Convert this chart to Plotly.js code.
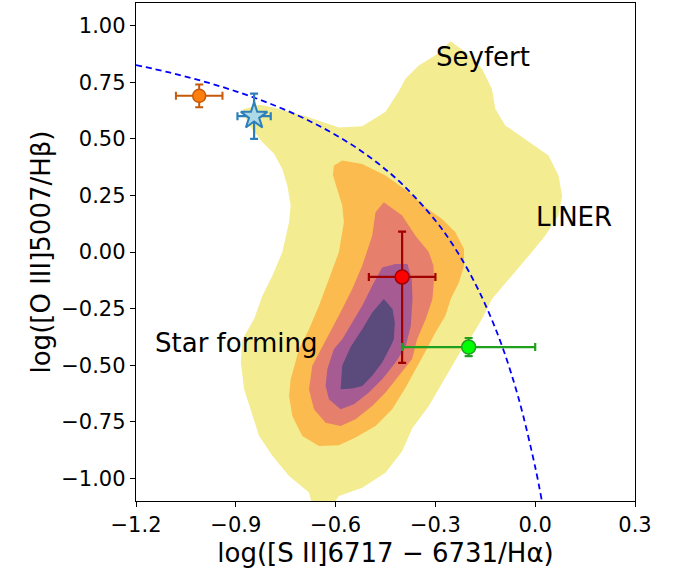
<!DOCTYPE html>
<html>
<head>
<meta charset="utf-8">
<script src="https://cdn.plot.ly/plotly-3.0.1.min.js"></script>
<style>html,body{margin:0;padding:0;background:#fff;}#chart{width:681px;height:581px;}</style>
</head>
<body>
<div id="chart"></div>
<script>
// ---- density contour outlines, outer to inner ----
const yellowX = [-0.88,-0.83,-0.79,-0.69,-0.59,-0.52,-0.45,-0.41,-0.39,-0.35,-0.30,-0.254,-0.21,-0.16,-0.13,-0.12,-0.09,-0.01,0.04,0.07,0.081,0.07,0.03,-0.01,-0.08,-0.13,-0.16,-0.19,-0.22,-0.26,-0.32,-0.37,-0.40,-0.45,-0.52,-0.59,-0.61,-0.67,-0.68,-0.74,-0.79,-0.83,-0.85,-0.875,-0.885,-0.88,-0.845,-0.82,-0.79,-0.76,-0.74,-0.735,-0.745,-0.76,-0.785,-0.82,-0.86];
const yellowY = [0.63,0.65,0.64,0.60,0.55,0.556,0.62,0.71,0.765,0.824,0.869,0.931,0.884,0.81,0.72,0.633,0.559,0.478,0.426,0.338,0.249,0.161,0.072,0.0,-0.119,-0.208,-0.296,-0.37,-0.429,-0.532,-0.68,-0.78,-0.88,-0.975,-1.041,-1.078,-1.12,-1.12,-1.063,-0.99,-0.90,-0.813,-0.724,-0.606,-0.488,-0.385,-0.296,-0.193,-0.105,0.0,0.131,0.205,0.293,0.367,0.434,0.485,0.559];

const orangeX = [-0.605,-0.58,-0.52,-0.45,-0.38,-0.33,-0.28,-0.24,-0.214,-0.214,-0.229,-0.254,-0.27,-0.30,-0.33,-0.36,-0.39,-0.43,-0.48,-0.54,-0.59,-0.65,-0.70,-0.73,-0.74,-0.735,-0.71,-0.68,-0.65,-0.62,-0.59,-0.575,-0.58,-0.60,-0.608];
const orangeY = [0.382,0.404,0.389,0.338,0.264,0.198,0.146,0.087,0.013,-0.061,-0.134,-0.208,-0.282,-0.356,-0.44,-0.52,-0.60,-0.695,-0.769,-0.82,-0.854,-0.857,-0.813,-0.724,-0.636,-0.562,-0.43,-0.341,-0.238,-0.119,0.0,0.131,0.205,0.30,0.34];

const salmonX = [-0.455,-0.40,-0.36,-0.32,-0.306,-0.304,-0.309,-0.329,-0.355,-0.37,-0.41,-0.45,-0.49,-0.54,-0.585,-0.63,-0.665,-0.68,-0.67,-0.64,-0.61,-0.58,-0.55,-0.52,-0.49,-0.48];
const salmonY = [0.22,0.161,0.072,0.0,-0.06,-0.119,-0.208,-0.296,-0.385,-0.473,-0.547,-0.621,-0.68,-0.739,-0.769,-0.754,-0.695,-0.606,-0.503,-0.42,-0.341,-0.252,-0.164,-0.061,0.072,0.176];

const purpleX = [-0.46,-0.42,-0.384,-0.371,-0.369,-0.374,-0.389,-0.42,-0.46,-0.50,-0.545,-0.585,-0.62,-0.63,-0.625,-0.605,-0.58,-0.55,-0.52,-0.49];
const purpleY = [-0.068,-0.053,-0.053,-0.119,-0.208,-0.326,-0.415,-0.488,-0.562,-0.621,-0.673,-0.695,-0.65,-0.592,-0.518,-0.429,-0.385,-0.311,-0.238,-0.149];

const darkX = [-0.455,-0.429,-0.422,-0.425,-0.434,-0.46,-0.49,-0.52,-0.55,-0.585,-0.58,-0.555,-0.52,-0.49];
const darkY = [-0.208,-0.252,-0.311,-0.385,-0.415,-0.488,-0.547,-0.592,-0.603,-0.606,-0.503,-0.42,-0.341,-0.267];

// ---- demarcation curve (Seyfert/LINER vs star forming) ----
const curveX = [-1.2,-1.1,-1.0,-0.9,-0.8,-0.7,-0.6,-0.5,-0.4,-0.3,-0.25,-0.2,-0.15,-0.1,-0.05,0.0,0.02];
const curveY = [0.826,0.793,0.755,0.710,0.657,0.594,0.517,0.422,0.300,0.139,0.037,-0.085,-0.232,-0.414,-0.646,-0.95,-1.10];

// ---- measured points ----
const orangePt = {x:[-1.01], y:[0.69], ex:[0.07], ey:[0.05]};
const starPt   = {x:[-0.845], y:[0.60], ex:[0.05], ey:[0.10]};
const redPt    = {x:[-0.40], y:[-0.11], ex:[0.10], eyUp:[0.20], eyDown:[0.38]};
const greenPt  = {x:[-0.20], y:[-0.42], ex:[0.20], ey:[0.04]};

// ---- tick labels ----
const xTicks = [-1.2,-0.9,-0.6,-0.3,0.0,0.3];
const xTickText = ['\u22121.2','\u22120.9','\u22120.6','\u22120.3','0.0','0.3'];
const yTicks = [-1.0,-0.75,-0.5,-0.25,0.0,0.25,0.5,0.75,1.0];
const yTickText = ['\u22121.00','\u22120.75','\u22120.50','\u22120.25','0.00','0.25','0.50','0.75','1.00'];

function poly(x, y, color){
  return {type:'scatter', mode:'lines', x:x, y:y, fill:'toself', fillcolor:color,
          line:{width:0, color:color}, hoverinfo:'skip', showlegend:false};
}

const traces = [
  poly(yellowX, yellowY, '#f3ec91'),
  poly(orangeX, orangeY, '#fbbb4e'),
  poly(salmonX, salmonY, '#e67f6c'),
  poly(purpleX, purpleY, '#a65c93'),
  poly(darkX, darkY, '#5b4a7c'),
  {type:'scatter', mode:'lines', x:curveX, y:curveY, line:{color:'#0000ff', width:1.8, dash:'6px,4px', shape:'spline'}, showlegend:false, hoverinfo:'skip'},
  {type:'scatter', mode:'markers', x:orangePt.x, y:orangePt.y,
   marker:{symbol:'circle', size:13, color:'#ff7f0e', line:{color:'#c45a0a', width:1.5}},
   error_x:{type:'data', array:orangePt.ex, color:'#c45a0a', thickness:2, width:4},
   error_y:{type:'data', array:orangePt.ey, color:'#c45a0a', thickness:2, width:4}, showlegend:false},
  {type:'scatter', mode:'markers', x:starPt.x, y:starPt.y,
   marker:{symbol:'star', size:20, color:'#add8e6', line:{color:'#2c7fb8', width:2}},
   error_x:{type:'data', array:starPt.ex, color:'#2c7fb8', thickness:2.2, width:4},
   error_y:{type:'data', array:starPt.ey, color:'#2c7fb8', thickness:2.2, width:4}, showlegend:false},
  {type:'scatter', mode:'markers', x:redPt.x, y:redPt.y,
   marker:{symbol:'circle', size:14, color:'#ff0000', line:{color:'#a00000', width:1.5}},
   error_x:{type:'data', array:redPt.ex, color:'#a00000', thickness:2.2, width:4},
   error_y:{type:'data', symmetric:false, array:redPt.eyUp, arrayminus:redPt.eyDown, color:'#a00000', thickness:2.2, width:4}, showlegend:false},
  {type:'scatter', mode:'markers', x:greenPt.x, y:greenPt.y,
   marker:{symbol:'circle', size:14, color:'#00ff00', line:{color:'#1fa01f', width:1.5}},
   error_x:{type:'data', array:greenPt.ex, color:'#1fa01f', thickness:2.2, width:4},
   error_y:{type:'data', array:greenPt.ey, color:'#1fa01f', thickness:2.2, width:4}, showlegend:false}
];

const font = 'DejaVu Sans, sans-serif';
const layout = {
  width:681, height:581,
  margin:{l:136, r:46, t:3, b:80, pad:0},
  paper_bgcolor:'#ffffff', plot_bgcolor:'#ffffff',
  showlegend:false,
  font:{family:font, color:'#000000'},
  xaxis:{range:[-1.2,0.3], tickvals:xTicks, ticktext:xTickText, ticks:'outside', ticklen:5, tickwidth:1, tickcolor:'#000',
         showline:true, linecolor:'#000', linewidth:1.2, mirror:true, showgrid:false, zeroline:false,
         tickfont:{family:font, size:21, color:'#000'},
         title:{text:'log([S II]6717 \u2212 6731/H\u03b1)', font:{family:font, size:26, color:'#000'}, standoff:7}},
  yaxis:{range:[-1.1,1.1], tickvals:yTicks, ticktext:yTickText, ticks:'outside', ticklen:5, tickwidth:1, tickcolor:'#000',
         showline:true, linecolor:'#000', linewidth:1.2, mirror:true, showgrid:false, zeroline:false,
         tickfont:{family:font, size:21, color:'#000'},
         title:{text:'log([O III]5007/H\u03b2)', font:{family:font, size:26, color:'#000'}, standoff:3}},
  annotations:[
    {x:-0.157, y:0.86, xref:'x', yref:'y', text:'Seyfert', showarrow:false, font:{family:font, size:26, color:'#000'}},
    {x:0.118, y:0.155, xref:'x', yref:'y', text:'LINER', showarrow:false, font:{family:font, size:26, color:'#000'}},
    {x:-0.90, y:-0.40, xref:'x', yref:'y', text:'Star forming', showarrow:false, font:{family:font, size:26, color:'#000'}}
  ]
};

Plotly.newPlot('chart', traces, layout, {staticPlot:true, displayModeBar:false});
</script>
</body>
</html>
